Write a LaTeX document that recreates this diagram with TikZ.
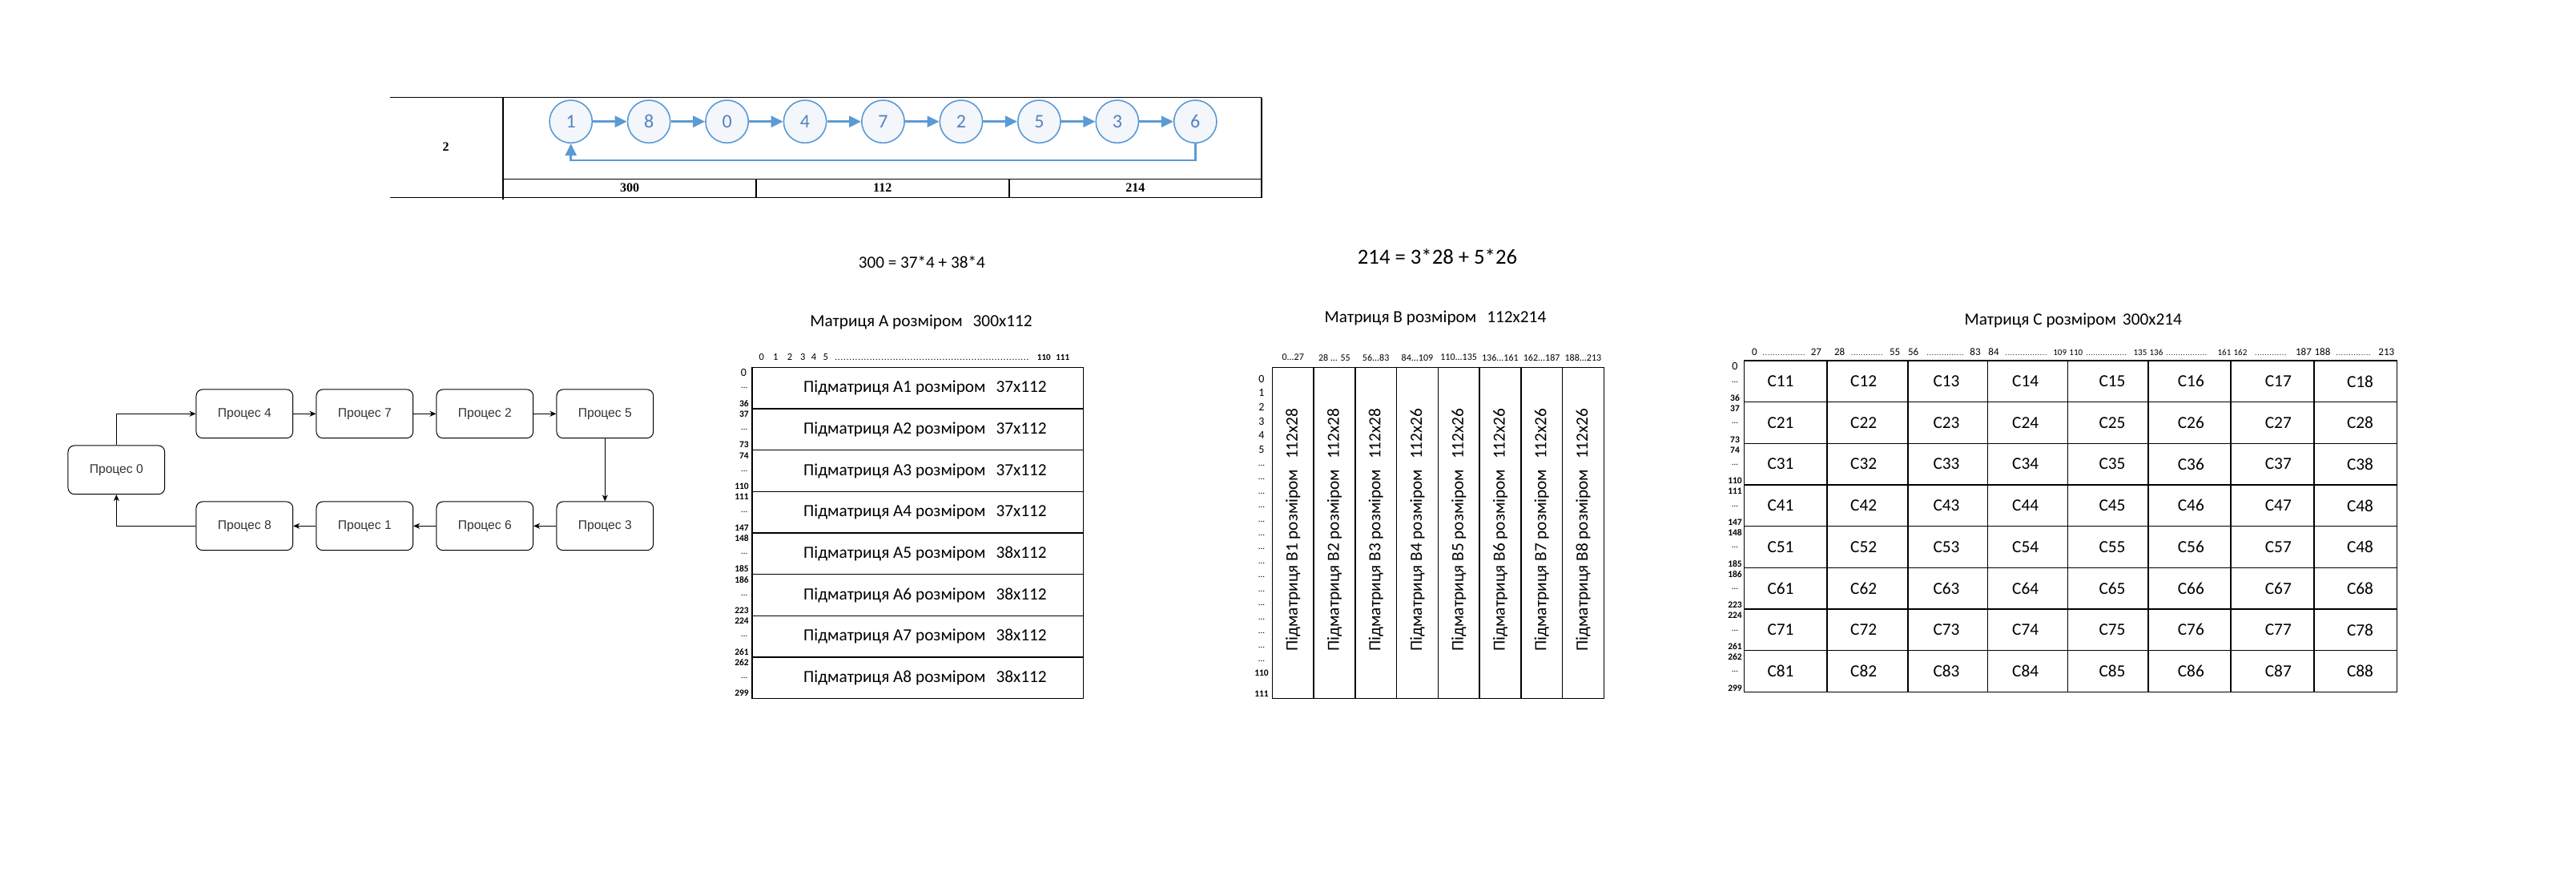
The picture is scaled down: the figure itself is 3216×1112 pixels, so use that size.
\documentclass[tikz,border=0pt]{standalone}
\usepackage{fontspec}
\setmainfont{Carlito}
\newfontfamily\arialf{Liberation Sans}
\newfontfamily\timesf{Liberation Serif}
\usetikzlibrary{arrows.meta,calc}
\definecolor{cblue}{RGB}{91,155,213}
\definecolor{ctext}{RGB}{84,130,192}
\definecolor{cfill}{RGB}{243,246,251}
\definecolor{ptext}{RGB}{51,51,51}
\newcommand{\myfs}[1]{\fontsize{#1}{#1}\selectfont}
\newcommand{\tdots}{...}
\begin{document}
\begin{tikzpicture}[x=1pt,y=-1pt,
  tline/.style={line width=1.5pt, black},
  ttxt/.style={font=\timesf\bfseries\myfs{16}, inner sep=0},
  circ/.style={circle, draw=cblue, line width=1.6pt, fill=cfill, minimum size=53.3pt, inner sep=0, text=ctext, font=\myfs{24}},
  carr/.style={draw=cblue, line width=2.6pt, -{Triangle[length=15pt,width=14pt]}},
  proc/.style={draw=black, line width=1pt, rounded corners=8pt, minimum width=120.7pt, minimum height=60.7pt, inner sep=0, font=\arialf\myfs{15.6}, text=ptext},
  parr/.style={line width=1pt, -{Stealth[length=8pt,width=7pt,inset=2.5pt]}},
  gridln/.style={line width=1.5pt, black},
  maintxt/.style={font=\myfs{21.3}, inner sep=0},
  lblb/.style={font=\bfseries\myfs{11.5}, inner sep=0},
  lblz/.style={font=\myfs{14}, inner sep=0},
  dotsty/.style={font=\myfs{11}, inner sep=0},
  hdr/.style={font=\myfs{12}, inner sep=0}
]
\fill[white] (0,0) rectangle (3216,1112);
\useasboundingbox (0,0) rectangle (3216,1112);

% ---------- top table ----------
\draw[tline] (486.7,121.7) -- (1575,121.7);
\draw[tline] (486.7,246.7) -- (1575,246.7);
\draw[tline] (627.7,223.3) -- (1575,223.3);
\draw[tline] (1575,121.7) -- (1575,246.7);
\draw[line width=2pt] (627.7,121.7) -- (627.7,248.5);
\draw[line width=2pt] (944,223.3) -- (944,246.7);
\draw[line width=2pt] (1260,223.3) -- (1260,246.7);
\node[ttxt] (tn2) at (556.7,183.3) {2};
\node[ttxt] (t300) at (786,234.5) {300};
\node[ttxt] (t112) at (1101.7,234.5) {112};
\node[ttxt] (t214) at (1417.3,234.5) {214};

\foreach \n [count=\i from 0] in {1,8,0,4,7,2,5,3,6}
  \node[circ] (c\i) at ({712.7+97.45*\i},151.7) {\n};
\foreach \i [evaluate=\i as \j using int(\i+1)] in {0,1,2,3,4,5,6,7}
  \draw[carr] (c\i.east) -- (c\j.west);
\coordinate (rb) at (1100,200);
\draw[carr] (c8.south) |- (rb) -| (c0.south);

% ---------- process ring ----------
\node[proc] (p0) at (145.3,586.3) {Процес 0};
\node[proc] (p4) at (305.3,516.3) {Процес 4};
\node[proc] (p7) at (455.3,516.3) {Процес 7};
\node[proc] (p2) at (605.3,516.3) {Процес 2};
\node[proc] (p5) at (755.3,516.3) {Процес 5};
\node[proc] (p8) at (305.3,656.3) {Процес 8};
\node[proc] (p1) at (455.3,656.3) {Процес 1};
\node[proc] (p6) at (605.3,656.3) {Процес 6};
\node[proc] (p3) at (755.3,656.3) {Процес 3};
\draw[parr] (p0.north) |- (p4.west);
\draw[parr] (p4.east) -- (p7.west);
\draw[parr] (p7.east) -- (p2.west);
\draw[parr] (p2.east) -- (p5.west);
\draw[parr] (p5.south) -- (p3.north);
\draw[parr] (p3.west) -- (p6.east);
\draw[parr] (p6.west) -- (p1.east);
\draw[parr] (p1.west) -- (p8.east);
\draw[parr] (p8.west) -| (p0.south);

% ---------- equations ----------
\node[font=\myfs{21.2}, inner sep=0] (eq1) at (1150.8,326.7) {300 = 37*4 + 38*4};
\node[font=\myfs{26.7}, inner sep=0] (eq2) at (1794.5,320) {214 = 3*28 + 5*26};

% ---------- matrix A ----------
\node[maintxt] (ta) at (1150,401.7) {Матриця А розміром\hspace{13pt}300x112};
\foreach \t/\x [count=\k] in {0/950.7,1/968.3,2/986,3/1002.3,4/1016,5/1030.7}
  \node[font=\myfs{12.5}, inner sep=0, anchor=base] (ah\k) at (\x,449) {\t};
\node[dotsty, anchor=base west] (ahd) at (1041.7,449) {\makebox[243.3pt]{\xleaders\hbox to 3.6pt{\hss.\hss}\hfill}};
\node[font=\bfseries\myfs{11}, inner sep=0, anchor=base] (ah110) at (1303.3,449) {110};
\node[font=\bfseries\myfs{11}, inner sep=0, anchor=base] (ah111) at (1326.7,449) {111};
\draw[gridln] (939,458.3) rectangle (1352.3,871.7);
\foreach \i in {1,2,3,4,5,6,7}
  \draw[gridln] (939,{458.3+51.675*\i}) -- (1352.3,{458.3+51.675*\i});
\foreach \i/\s in {1/37,2/37,3/37,4/37,5/38,6/38,7/38,8/38}
  \node[maintxt] (a\i) at (1155,{458.3+51.675*(\i-0.5)}) {Підматриця A\i{} розміром\hspace{13pt}\s x112};
\node[lblz] (al0) at (928.3,465) {0};
\foreach \i/\s/\e in {0/0/36,1/37/73,2/74/110,3/111/147,4/148/185,5/186/223,6/224/261,7/262/299}{
  \ifnum\i>0
    \node[lblb, anchor=east] (al\s) at (935,{458.3+51.675*\i+6.8}) {\s};
  \fi
  \node[dotsty] (ad\i) at (929.3,{458.3+51.675*\i+26}) {\tdots};
  \node[lblb, anchor=east] (ae\e) at (935,{458.3+51.675*\i+45}) {\e};
}

% ---------- matrix B ----------
\node[maintxt] (tb) at (1792,396.7) {Матриця В розміром\hspace{13pt}112x214};
\draw[gridln] (1588.3,458.3) rectangle (2002.3,871.7);
\foreach \i in {1,2,3,4,5,6,7}
  \draw[gridln] ({1588.3+51.75*\i},458.3) -- ({1588.3+51.75*\i},871.7);
\foreach \i/\w/\h in {1/28/{0\tdots27},2/28/{28 \tdots{} 55},3/28/{56\tdots83},4/26/{84\tdots109},5/26/{110\tdots135},6/26/{136\tdots161},7/26/{162\tdots187},8/26/{188\tdots213}}{
  \node[maintxt, rotate=90] (b\i) at ({1588.3+51.75*(\i-0.5)},661) {Підматриця B\i{} розміром\hspace{13pt}112x\w};
  \node[hdr] (bh\i) at ({1588.3+51.75*(\i-0.5)},446) {\h};
}
\foreach \t [count=\k from 0] in {0,1,2,3,4,5}
  \node[lblz] (bl\k) at (1575,{472.7+17.6*\k}) {\t};
\foreach \k in {0,1,2,3,4,5,6,7,8,9,10,11,12,13,14}
  \node[dotsty] (bd\k) at (1575,{580.7+17.45*\k}) {\tdots};
\node[lblb] (bl110) at (1575,839.3) {110};
\node[lblb] (bl111) at (1575,865.7) {111};

% ---------- matrix C ----------
\node[maintxt] (tc) at (2588.3,400) {Матриця С розміром\hspace{8pt}300x214};
\foreach \t/\x/\s [count=\k] in {0/2190.5/13,27/2267.4/13,28/2296.7/13,55/2365.6/13,56/2388.6/13,83/2466/13,84/2489/13,109/2571.7/11,110/2591.8/11,135/2672/11,136/2692/11,161/2777/11,162/2797/11,187/2876/13,188/2899.5/13,213/2979.3/13}
  \node[font=\myfs{\s}, inner sep=0, anchor=base] (ch\k) at (\x,443) {\t};
\foreach \a/\b [count=\k] in {2200/2253.7,2310.5/2350.7,2405/2451.7,2503/2555.6,2603.8/2655,2703.7/2755.4,2814.5/2854.7,2916/2959.7}{
  \pgfmathsetmacro\dotw{\b-\a}
  \node[font=\myfs{9}, inner sep=0, anchor=base west] (cd\k) at (\a,443) {\makebox[\dotw pt]{\xleaders\hbox to 3pt{\hss.\hss}\hfill}};
}
\draw[gridln] (2177.3,450) rectangle (2992.5,863.3);
\foreach \x in {2281.2,2382.2,2481.6,2581.4,2681.9,2785.2,2889.1}
  \draw[gridln] (\x,450) -- (\x,863.3);
\foreach \i in {1,2,3,4,5,6,7}
  \draw[gridln] (2177.3,{450+51.66*\i}) -- (2992.5,{450+51.66*\i});
\foreach \r in {1,2,3,4,5,6,7,8}{
  \foreach \c/\x in {1/2223,2/2326.6,3/2430,4/2528.6,5/2637,6/2735.3,7/2844.3,8/2946.5}{
    \ifnum\r=5 \ifnum\c=8
      \node[maintxt] (cc\r\c) at (\x,{450+51.66*(\r-0.5)}) {C48};
    \else
      \node[maintxt] (cc\r\c) at (\x,{450+51.66*(\r-0.5)}) {C\r\c};
    \fi
    \else
      \node[maintxt] (cc\r\c) at (\x,{450+51.66*(\r-0.5)}) {C\r\c};
    \fi
  }
}
\node[lblz] (cl0) at (2166,457.3) {0};
\foreach \i/\s/\e in {0/0/36,1/37/73,2/74/110,3/111/147,4/148/185,5/186/223,6/224/261,7/262/299}{
  \ifnum\i>0
    \node[lblb] (cl\s) at (2166,{450+51.66*\i+8}) {\s};
  \fi
  \node[dotsty] (cdd\i) at (2166,{450+51.66*\i+26.5}) {\tdots};
  \node[lblb] (ce\e) at (2166,{450+51.66*\i+46.7}) {\e};
}
\end{tikzpicture}
\end{document}
